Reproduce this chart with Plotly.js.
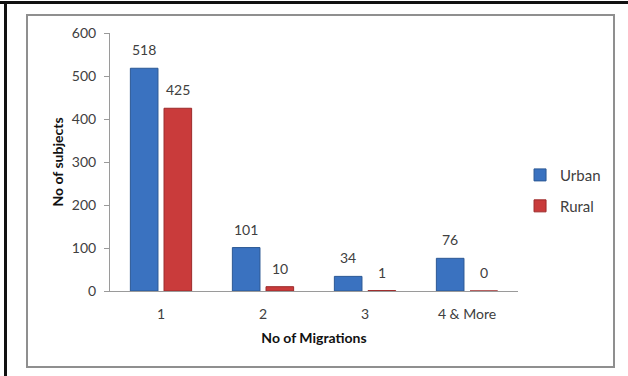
<!DOCTYPE html>
<html>
<head>
<meta charset="utf-8">
<script src="https://cdn.plot.ly/plotly-3.0.1.min.js"></script>
<style>
  html, body { margin: 0; padding: 0; background: #fff; }
  #wrap { position: relative; width: 628px; height: 376px; overflow: hidden; background: #fff; }
  #outerTop { position: absolute; left: 0; top: 1px; width: 628px; height: 3px; background: #111; }
  #outerLeft { position: absolute; left: 4px; top: 1px; width: 3px; height: 376px; background: #111; }
  #inner { position: absolute; left: 26px; top: 14px; width: 585px; height: 350px; border: 2px solid #8f8f8f; box-sizing: content-box; }
  #chart { position: absolute; left: 0; top: 0; width: 628px; height: 376px; }
</style>
</head>
<body>
<div id="wrap">
  <div id="outerTop"></div>
  <div id="outerLeft"></div>
  <div id="inner"></div>
  <div id="chart"></div>
</div>
<script>
const categories = ["1", "2", "3", "4 & More"];
const urban = [518, 101, 34, 76];
const rural = [425, 10, 1, 0];
const seriesNames = ["Urban", "Rural"];
const yTicks = [0, 100, 200, 300, 400, 500, 600];

const FONT = "Lato, 'Open Sans', sans-serif";
const txtColor = "#404040";

const traces = [
  {
    type: "bar", name: seriesNames[0], x: categories, y: urban,
    marker: { color: "#3a72c0", line: { color: "#2b5894", width: 1 } },
    legend: "legend", hoverinfo: "skip"
  },
  {
    type: "bar", name: seriesNames[1], x: categories, y: rural,
    marker: { color: "#c93b3b", line: { color: "#9c2a2a", width: 1 } },
    legend: "legend2", hoverinfo: "skip"
  }
];

const annotations = [];
const series = [urban, rural];
const shifts = [-17, 17];
series.forEach((vals, s) => {
  vals.forEach((v, i) => {
    annotations.push({
      x: i, y: v, xref: "x", yref: "y",
      text: String(v), showarrow: false,
      xanchor: "center", yanchor: "bottom",
      xshift: shifts[s], yshift: 8,
      font: { family: FONT, size: 14, color: txtColor }
    });
  });
});

const layout = {
  width: 628, height: 376,
  margin: { l: 110, r: 110, t: 33, b: 85 },
  paper_bgcolor: "rgba(0,0,0,0)",
  plot_bgcolor: "rgba(0,0,0,0)",
  barmode: "group",
  bargap: 0.34,
  bargroupgap: 0.18,
  font: { family: FONT, size: 14, color: txtColor },
  xaxis: {
    type: "category",
    showline: true, linecolor: "#9a9a9a", linewidth: 1,
    ticks: "", showgrid: false, zeroline: false,
    ticklabelstandoff: 10,
    tickfont: { family: FONT, size: 14, color: txtColor },
    title: { text: "<b>No of Migrations</b>", font: { family: FONT, size: 14, color: "#111" }, standoff: 12 }
  },
  yaxis: {
    range: [0, 600],
    tickvals: yTicks,
    showline: true, linecolor: "#9a9a9a", linewidth: 1,
    ticks: "outside", ticklen: 5, tickcolor: "#9a9a9a",
    showgrid: false, zeroline: false,
    ticklabelstandoff: 5,
    tickfont: { family: FONT, size: 14, color: txtColor },
    title: { text: "<b>No of subjects</b>", font: { family: FONT, size: 14, color: "#111" }, standoff: 4 }
  },
  showlegend: true,
  legend: {
    x: 1.005, xanchor: "left", y: 0.513, yanchor: "top",
    bgcolor: "rgba(0,0,0,0)", borderwidth: 0,
    font: { family: FONT, size: 15, color: txtColor },
    itemwidth: 30
  },
  legend2: {
    x: 1.005, xanchor: "left", y: 0.393, yanchor: "top",
    bgcolor: "rgba(0,0,0,0)", borderwidth: 0,
    font: { family: FONT, size: 15, color: txtColor },
    itemwidth: 30
  },
  annotations: annotations
};

Plotly.newPlot("chart", traces, layout, { displayModeBar: false, staticPlot: true });
</script>
</body>
</html>
